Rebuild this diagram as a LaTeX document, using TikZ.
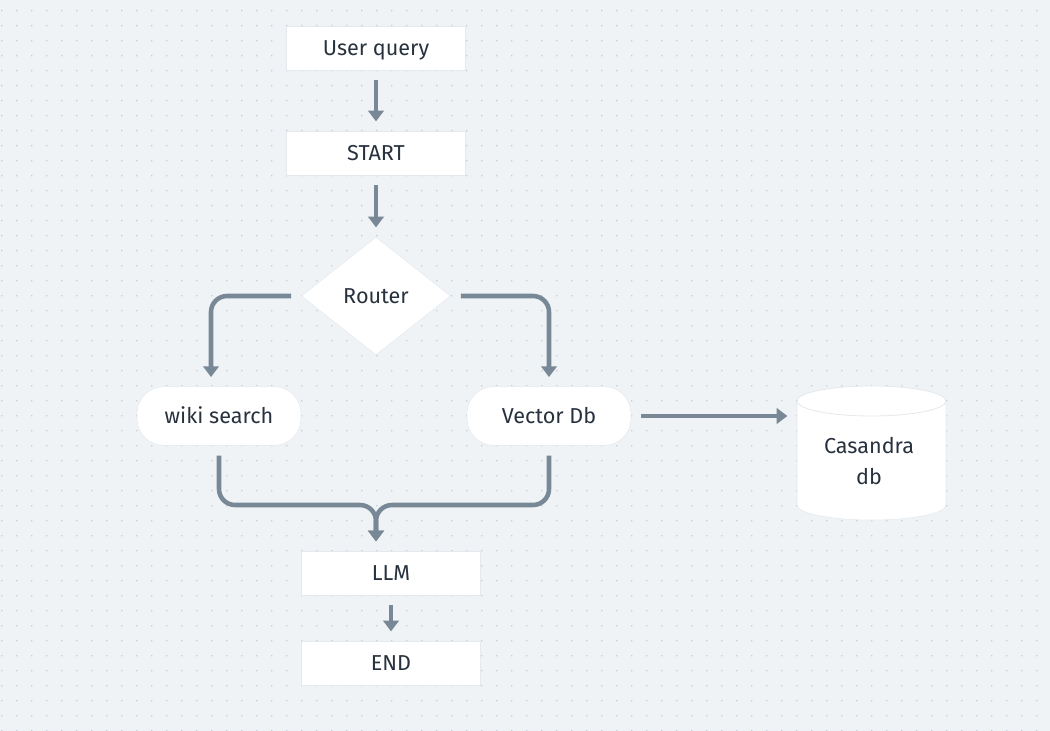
\documentclass[tikz,border=0pt]{standalone}
\usepackage{fontspec}
\setmainfont{Fira Sans}
\usetikzlibrary{arrows.meta}
\usetikzlibrary{shapes.geometric}

\definecolor{bgcol}{HTML}{F0F3F6}
\definecolor{dotcol}{HTML}{C6CED7}
\definecolor{linkcol}{HTML}{788896}
\definecolor{textcol}{HTML}{27323E}
\definecolor{edgecol}{HTML}{E4E9EE}

\tikzset{
	box/.style={rectangle, fill=white, draw=edgecol, line width=0.4pt, minimum width=134pt, minimum height=33pt, inner sep=0pt, text height=11.2pt, text depth=0pt, text=textcol},
	pill/.style={rectangle, rounded corners=20pt, fill=white, draw=edgecol, line width=0.4pt, minimum width=123pt, minimum height=44pt, inner sep=0pt, text height=11.2pt, text depth=0pt, text=textcol},
	decision/.style={diamond, fill=white, draw=edgecol, line width=0.4pt, minimum width=112pt, minimum height=88.5pt, inner sep=0pt, text=textcol},
	link/.style={draw=linkcol, line width=3.4pt, -{Triangle[width=11.5pt,length=8pt]}, shorten <=7.5pt, shorten >=7pt}
}

\begin{document}
\begin{tikzpicture}[x=0.75pt, y=-0.75pt, font=\fontsize{16.2}{19}\selectfont]

	% background with dot grid
	\fill[bgcol] (0,0) rectangle (1050,731);
	\useasboundingbox (0,0) rectangle (1050,731);
	\fill[dotcol] \foreach \x in {1,16,...,1050} { \foreach \y in {10,25,...,731} { (\x,\y) rectangle ++(1.4,1.4) } };

	% main column
	\node[box] (query) at (376,48) {User query};
	\node[box] (start) at (376,153) {START};
	\node[decision] (router) at (376,296) {Router};

	% the two branches
	\node[pill] (wiki) at (219,416) {wiki search};
	\node[pill] (vdb) at (549,416) {Vector Db};

	% database cylinder
	\fill[white, draw=edgecol, line width=0.4pt] (797,401) -- (797,505) arc[start angle=180, end angle=0, x radius=74.5, y radius=15] -- (946,401);
	\fill[white, draw=edgecol, line width=0.6pt] (871.5,401) ellipse [x radius=74.5, y radius=15];
	\node[minimum width=111.75pt, minimum height=100.5pt, inner sep=0pt] (cas) at (871.5,453) {};
	\node[align=center, text=textcol, font=\fontsize{16.2}{23}\selectfont] (casname) at (869,461) {Casandra\\db};

	% bottom column
	\coordinate (merge) at (376,505);
	\node[box] (llm) at (391,573) {LLM};
	\node[box] (end) at (391,663) {END};

	% connectors
	\draw[link] (query) -- (start);
	\draw[link] (start) -- (router);
	\draw[link, rounded corners=12pt] (router.west) -| ([xshift=-6pt]wiki.north);
	\draw[link, rounded corners=12pt] (router.east) -| (vdb.north);
	\draw[link] (vdb.east) -- (vdb.east -| cas.west);
	\draw[link, rounded corners=12pt] (wiki.south) |- (merge) -- (merge |- llm.north);
	\draw[link, rounded corners=12pt] (vdb.south) |- (merge) -- (merge |- llm.north);
	\draw[link] (llm) -- (end);

\end{tikzpicture}
\end{document}
